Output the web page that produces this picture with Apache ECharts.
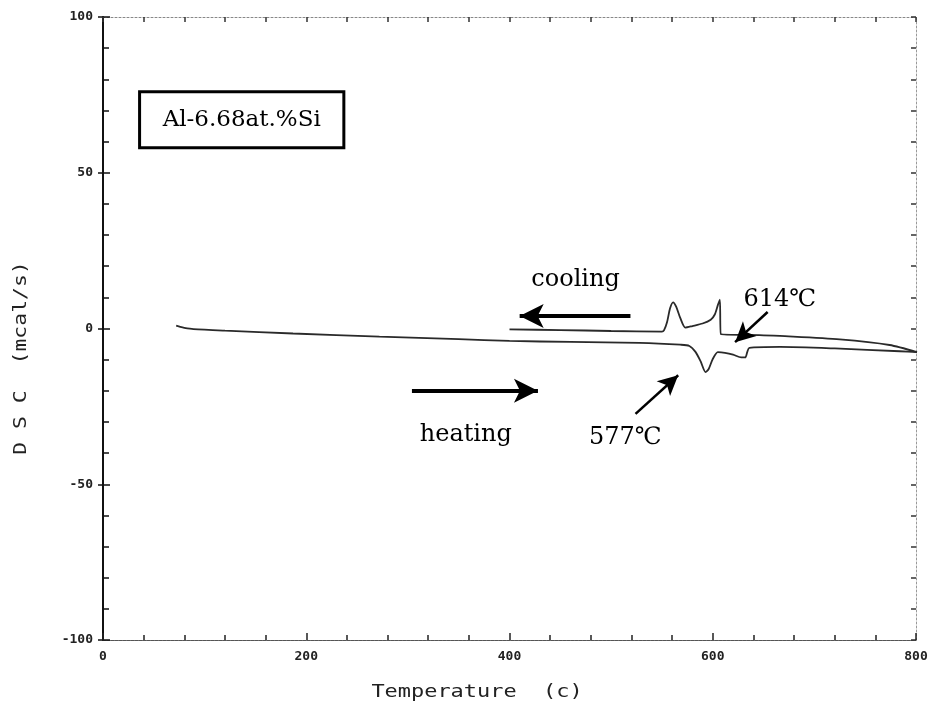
<!DOCTYPE html>
<html>
<head>
<meta charset="utf-8">
<script src="https://cdn.jsdelivr.net/npm/echarts@6/dist/echarts.min.js"></script>
<style>
html,body{margin:0;padding:0;background:#fff}
#main{width:942px;height:714px}
</style>
</head>
<body>
<div id="main"></div>
<script>
// heating run (T in C, DSC in mcal/s)
var heatT = [72, 76, 80, 89, 120, 187, 272, 350, 400, 460, 528, 568, 577, 583, 588, 593, 596, 600, 605, 612, 620, 628, 632, 634, 636, 666, 720, 784, 801];
var heatD = [0.9, 0.5, 0.2, -0.2, -0.7, -1.6, -2.6, -3.4, -4.0, -4.3, -4.6, -5.2, -5.6, -7.5, -10.5, -14.0, -13.0, -9.8, -7.6, -7.8, -8.4, -9.3, -9.3, -7.5, -6.2, -5.9, -6.4, -7.3, -7.6];
// cooling run, in recorded order (800 -> 400)
var coolT = [801, 774, 725, 666, 646, 608, 607, 605, 602, 598, 590, 580, 573, 568, 564, 561, 558, 555, 552, 550, 500, 450, 400];
var coolD = [-7.6, -5.3, -3.5, -2.4, -2.1, -1.8, 9.3, 7.5, 4.5, 2.8, 1.6, 0.8, 0.3, 3.4, 7.0, 8.4, 6.5, 2.0, -0.6, -1.0, -0.8, -0.5, -0.3];

var xTicks = [0, 200, 400, 600, 800];
var yTicks = [-100, -50, 0, 50, 100];

// annotation arrows [from, tip] in data units
var arrowCool = [[519, 4.0], [410, 4.0]];
var arrowHeat = [[304, -20], [428, -20]];
var arrow577 = [[524, -27.4], [566, -15.0]];
var arrow614 = [[654, 5.3], [622, -4.4]];
// annotation texts [T, DSC, text]
var notes = [
  [465, 15.6, 'cooling'],
  [357, -34.2, 'heating'],
  [514, -35.2, '577\u2103'],
  [666, 9.1, '614\u2103']
];
var alloy = 'Al-6.68at.%Si';

function zip(a, b) { return a.map(function (v, i) { return [v, b[i]]; }); }

var tickFont = { fontFamily: 'DejaVu Sans Mono', fontWeight: 'bold', fontSize: 13, color: '#222' };

function arrowLine(pts, w, sz) {
  return {
    type: 'line', data: [], silent: true,
    markLine: {
      silent: true, animation: false,
      symbol: ['none', 'arrow'], symbolSize: sz,
      label: { show: false },
      lineStyle: { color: '#000', width: w, type: 'solid' },
      data: [[{ coord: pts[0] }, { coord: pts[1] }]]
    }
  };
}

var chart = echarts.init(document.getElementById('main'));
var option = {
  animation: false,
  backgroundColor: '#fff',
  grid: { left: 103, right: 26, top: 17, bottom: 74 },
  xAxis: [{
    type: 'value', min: 0, max: 800, interval: 200, position: 'bottom',
    axisLine: { onZero: false, lineStyle: { color: '#555', width: 1.2, type: [3, 1] } },
    axisTick: { inside: true, length: 7, lineStyle: { color: '#222', width: 1.5 } },
    minorTick: { show: true, splitNumber: 5, length: 5, lineStyle: { color: '#222', width: 1.5 } },
    axisLabel: Object.assign({ margin: 10, formatter: function (v) { return xTicks.indexOf(v) >= 0 ? v : ''; } }, tickFont),
    splitLine: { show: false }
  }, {
    type: 'value', min: 0, max: 800, interval: 40, position: 'top',
    axisLine: { show: true, onZero: false, lineStyle: { color: '#888', width: 1, type: [2, 2] } },
    axisTick: { inside: true, length: 5, lineStyle: { color: '#333', width: 1.5 } },
    axisLabel: { show: false }, splitLine: { show: false }
  }],
  yAxis: [{
    type: 'value', min: -100, max: 100, interval: 50, position: 'left',
    axisLine: { show: true, onZero: false, lineStyle: { color: '#111', width: 2 } },
    axisTick: { inside: true, length: 7, lineStyle: { color: '#111', width: 1.5 } },
    minorTick: { show: true, splitNumber: 5, length: 6, lineStyle: { color: '#111', width: 1.5 } },
    axisLabel: Object.assign({ margin: 10, formatter: function (v) { return yTicks.indexOf(v) >= 0 ? v : ''; } }, tickFont),
    splitLine: { show: false }
  }, {
    type: 'value', min: -100, max: 100, interval: 10, position: 'right',
    axisLine: { show: true, onZero: false, lineStyle: { color: '#999', width: 1, type: [2, 2] } },
    axisTick: { inside: true, length: 5, lineStyle: { color: '#333', width: 1.5 } },
    axisLabel: { show: false }, splitLine: { show: false }
  }, {
    type: 'value', min: -100, max: 100, interval: 50, position: 'left',
    axisLine: { show: false, onZero: false },
    axisTick: { inside: false, length: 5, lineStyle: { color: '#111', width: 1.5 } },
    axisLabel: { show: false }, splitLine: { show: false }
  }],
  series: [{
    name: 'heating', type: 'line', data: zip(heatT, heatD),
    showSymbol: false, smooth: 0.25,
    lineStyle: { color: '#2a2a2a', width: 1.8 }
  }, {
    name: 'cooling', type: 'line', data: zip(coolT, coolD),
    showSymbol: false, smooth: 0.25,
    lineStyle: { color: '#2a2a2a', width: 1.8 }
  },
  arrowLine(arrowCool, 4, [18, 24]),
  arrowLine(arrowHeat, 4, [18, 24]),
  arrowLine(arrow577, 2.5, [15, 20]),
  arrowLine(arrow614, 2.5, [15, 20])
  ]
};
chart.setOption(option);

var serif = 'DejaVu Serif, Liberation Serif, serif';
var g = notes.map(function (n) {
  var p = chart.convertToPixel({ gridIndex: 0 }, [n[0], n[1]]);
  return {
    type: 'text', x: p[0], y: p[1],
    style: { text: n[2], font: '24px ' + serif, fill: '#000', align: 'center', verticalAlign: 'middle' }
  };
});
var b0 = chart.convertToPixel({ gridIndex: 0 }, [36, 76]);
var b1 = chart.convertToPixel({ gridIndex: 0 }, [237, 58]);
g.push({
  type: 'rect', shape: { x: b0[0], y: b0[1], width: b1[0] - b0[0], height: b1[1] - b0[1] },
  style: { fill: '#fff', stroke: '#000', lineWidth: 3 }
});
g.push({
  type: 'text', x: (b0[0] + b1[0]) / 2, y: (b0[1] + b1[1]) / 2,
  style: { text: alloy, font: '23px ' + serif, fill: '#000', align: 'center', verticalAlign: 'middle' }
});
g.push({
  type: 'text', x: 477, y: 693, scaleX: 1.29,
  style: { text: 'Temperature  (c)', font: '17px DejaVu Sans Mono', fill: '#222', align: 'center', verticalAlign: 'middle' }
});
g.push({
  type: 'text', x: 22, y: 358, rotation: Math.PI / 2, scaleX: 1.26,
  style: { text: 'D S C  (mcal/s)', font: '17px DejaVu Sans Mono', fill: '#222', align: 'center', verticalAlign: 'middle' }
});
chart.setOption({ graphic: g });
</script>
</body>
</html>
